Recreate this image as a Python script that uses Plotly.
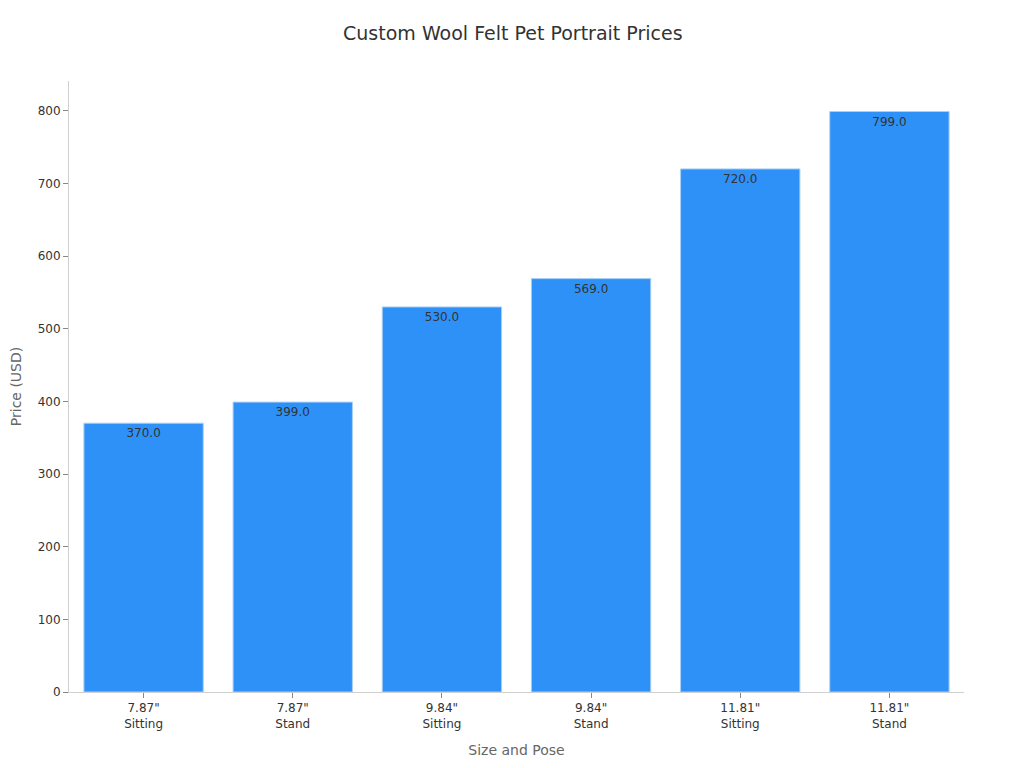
import plotly.graph_objects as go

categories = ['7.87"<br>Sitting', '7.87"<br>Stand', '9.84"<br>Sitting', '9.84"<br>Stand', '11.81"<br>Sitting', '11.81"<br>Stand']
prices = [370.0, 399.0, 530.0, 569.0, 720.0, 799.0]
labels = [f"{v:.1f}" for v in prices]

fig = go.Figure(go.Bar(
    x=categories, y=prices, text=labels, textposition="inside", insidetextanchor="end",
    textfont=dict(color="#333333", size=12),
    marker=dict(color="#2E91F7", line=dict(color="#A9CFF5", width=1)),
    width=0.8,
))
fig.update_layout(
    width=1024, height=768,
    font=dict(family="DejaVu Sans", color="#333333"),
    title=dict(text="Custom Wool Felt Pet Portrait Prices", x=0.493, xanchor="center", y=0.976, font=dict(size=19)),
    paper_bgcolor="white", plot_bgcolor="white",
    margin=dict(l=61, r=68, t=73, b=84),
    showlegend=False,
    xaxis=dict(title=dict(text="Size and Pose", font=dict(size=14, color="#666666"), standoff=15),
               showline=True, linecolor="#D0D0D0", ticks="outside", ticklen=5, tickcolor="#888888",
               tickfont=dict(size=12, color="#333333"), showgrid=False),
    yaxis=dict(title=dict(text="Price (USD)", font=dict(size=14, color="#666666")),
               showline=True, linecolor="#D0D0D0", ticks="outside", ticklen=5, tickcolor="#888888",
               tickfont=dict(size=12, color="#333333"), showgrid=False, range=[0, 841], dtick=100,
               automargin=False),
)
fig.write_html("out.html")
